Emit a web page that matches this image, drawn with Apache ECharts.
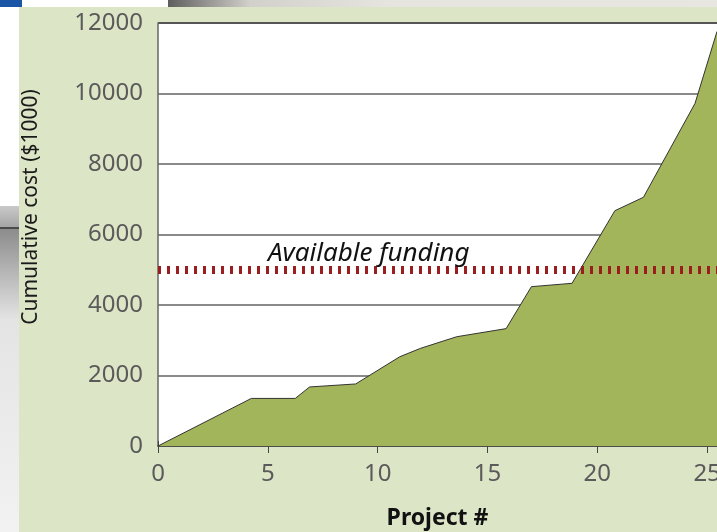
<!DOCTYPE html>
<html>
<head>
<meta charset="utf-8">
<script src="https://cdn.jsdelivr.net/npm/echarts@6/dist/echarts.min.js"></script>
<style>
html,body{margin:0;padding:0;background:#fff;}
#c{width:717px;height:532px;}
</style>
</head>
<body>
<div id="c"></div>
<script>
// ---- data ----
var projectNo = [0, 4.25, 6.25, 6.9, 9.0, 11.0, 11.95, 13.6, 15.85, 17.0, 18.85, 20.8, 22.1, 24.45, 25.45];
var cumulativeCost = [0, 1350, 1350, 1675, 1760, 2530, 2770, 3100, 3330, 4520, 4615, 6675, 7055, 9720, 11760];
var availableFunding = 5000;
var xTicks = [0, 5, 10, 15, 20, 25];
var yTicks = [0, 2000, 4000, 6000, 8000, 10000, 12000];

var points = projectNo.map(function (x, i) { return [x, cumulativeCost[i]]; });

var chart = echarts.init(document.getElementById('c'), null, {renderer: 'canvas'});
var FONT = 'Noto Sans';

var option = {
  backgroundColor: '#dde5c7',
  animation: false,
  grid: {left: 158, right: 0, top: 23, bottom: 86, show: true, backgroundColor: '#ffffff', borderWidth: 0,
    containLabel: false, outerBoundsMode: 'none'},
  xAxis: [{
    type: 'value', min: xTicks[0], max: 25.45, interval: 5,
    axisLine: {show: true, onZero: false, lineStyle: {color: '#3a3a3a', width: 1.5}},
    axisTick: {show: true, length: 7, lineStyle: {color: '#444', width: 1}},
    axisLabel: {show: true, showMaxLabel: false, margin: 16, color: '#5a5a5a', fontFamily: FONT, fontSize: 24,
      formatter: function (v) { return xTicks.indexOf(v) >= 0 ? String(v) : ''; }},
    splitLine: {show: false},
    name: 'Project #', nameLocation: 'middle', nameGap: 61,
    nameTextStyle: {color: '#111', fontFamily: FONT, fontSize: 23, fontWeight: 'bold'}
  }, {
    type: 'value', min: xTicks[0], max: 25.45, interval: 5, position: 'bottom',
    axisLine: {show: false}, axisLabel: {show: false}, splitLine: {show: false},
    axisTick: {show: true, inside: true, length: 5, lineStyle: {color: '#444', width: 1}}
  }],
  yAxis: {
    type: 'value', min: yTicks[0], max: yTicks[yTicks.length - 1], interval: 2000,
    axisLine: {show: true, lineStyle: {color: '#666', width: 1.5}},
    axisTick: {show: false},
    axisLabel: {margin: 15, color: '#5a5a5a', fontFamily: FONT, fontSize: 24,
      formatter: function (v) { return String(v); }},
    splitLine: {show: true, lineStyle: {color: ['#8a8a8a', '#8a8a8a', '#8a8a8a', '#8a8a8a', '#8a8a8a', '#8a8a8a', '#555'], width: 2}}
  },
  graphic: [
    {type: 'rect', shape: {x: 0, y: 0, width: 717, height: 7}, style: {fill: '#ffffff'}, silent: true},
    {type: 'rect', shape: {x: 0, y: 0, width: 22, height: 7}, style: {fill: '#1a55a6'}, silent: true},
    {type: 'rect', shape: {x: 168, y: 0, width: 549, height: 7}, silent: true,
      style: {fill: {type: 'linear', x: 0, y: 0, x2: 1, y2: 0, colorStops: [
        {offset: 0, color: '#5e5e5e'}, {offset: 0.15, color: '#d2d0cb'}, {offset: 0.4, color: '#e6e4de'}, {offset: 1, color: '#e8e6e0'}]}}},
    {type: 'rect', shape: {x: 0, y: 7, width: 19, height: 525}, style: {fill: '#ffffff'}, silent: true},
    {type: 'rect', shape: {x: 0, y: 206, width: 19, height: 22}, silent: true,
      style: {fill: {type: 'linear', x: 0, y: 0, x2: 0, y2: 1, colorStops: [
        {offset: 0, color: '#c9c9c9'}, {offset: 1, color: '#a4a4a4'}]}}},
    {type: 'rect', shape: {x: 0, y: 227, width: 19, height: 2}, style: {fill: '#4a4a4a'}, silent: true},
    {type: 'rect', shape: {x: 0, y: 229, width: 19, height: 303}, silent: true,
      style: {fill: {type: 'linear', x: 0, y: 0, x2: 0, y2: 1, colorStops: [
        {offset: 0, color: '#8c8c8c'}, {offset: 0.3, color: '#e4e4e4'}, {offset: 1, color: '#f2f2f2'}]}}},
    {type: 'text', x: 31, y: 207, rotation: Math.PI / 2, silent: true,
      style: {text: 'Cumulative cost ($1000)', fill: '#1a1a1a', font: '21px "Noto Sans"', align: 'center', verticalAlign: 'middle'}}
  ],
  series: [{
    type: 'line',
    xAxisIndex: 0,
    data: points,
    symbol: 'none',
    lineStyle: {color: '#333', width: 1},
    areaStyle: {color: '#a3b55a', opacity: 1},
    markLine: {
      silent: true, symbol: 'none',
      lineStyle: {color: '#9c1d1d', width: 8, type: [3, 6]},
      label: {show: true, position: 'insideStartTop', formatter: 'Available funding', distance: [110, 3],
        color: '#111', fontFamily: FONT, fontStyle: 'italic', fontSize: 26},
      data: [{yAxis: availableFunding}]
    },
    z: 3
  }]
};
chart.setOption(option);
</script>
</body>
</html>
